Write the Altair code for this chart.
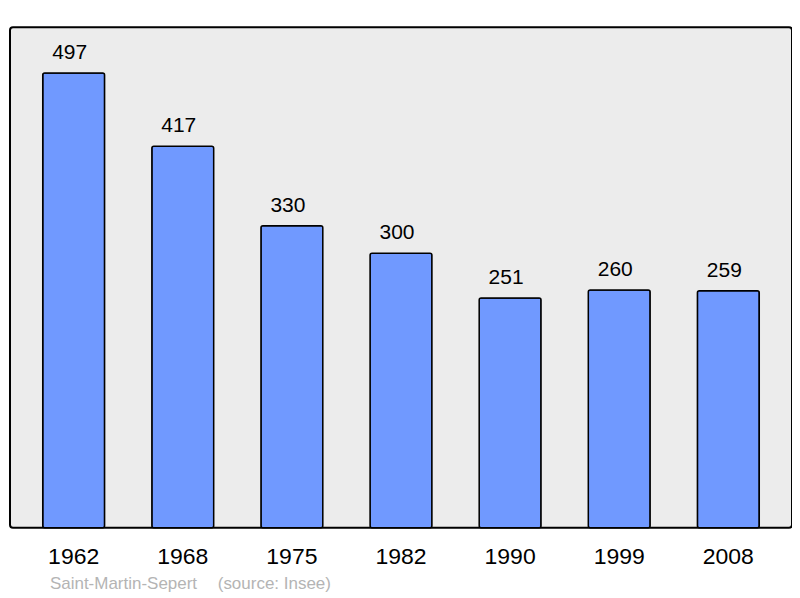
import altair as alt
import pandas as pd

years = ["1962", "1968", "1975", "1982", "1990", "1999", "2008"]
population = [497, 417, 330, 300, 251, 260, 259]
commune = "Saint-Martin-Sepert"
source = "(source: Insee)"

df = pd.DataFrame({"Year": years, "Population": population})

x = alt.X(
    "Year:O",
    scale=alt.Scale(paddingInner=0.433, paddingOuter=0.3),
    axis=alt.Axis(title=None, domain=False, ticks=False, labelAngle=0,
                  labelFontSize=23, labelColor="black", labelPadding=18,
                  labelFont="Liberation Sans"),
)
y = alt.Y("Population:Q", scale=alt.Scale(domain=[0, 547], nice=False),
          axis=None)

bars = alt.Chart(df).mark_bar(
    color="#7099ff", stroke="black", strokeWidth=1.5, cornerRadius=2
).encode(x=x, y=y)

labels = alt.Chart(df).mark_text(
    baseline="alphabetic", dx=-4, dy=-14, fontSize=21, color="black",
    font="Liberation Sans"
).encode(x=x, y=y, text="Population:Q")

caption = alt.Chart(pd.DataFrame({"t": [commune, source], "px": [40, 208]})).mark_text(
    align="left", baseline="middle", fontSize=17, color="#b4b4b4",
    font="Liberation Sans"
).encode(x=alt.X("px:Q", scale=None), y=alt.value(557), text="t:N")

chart = (
    (bars + labels + caption)
    .properties(width=783, height=501, autosize=alt.AutoSizeParams(type="none"),
                padding={"left": 2, "top": 19, "right": 0, "bottom": 68})
    .configure_view(fill="#ececec", stroke="black", strokeWidth=2, cornerRadius=3)
)

chart.save("out.html", embed_options={"renderer": "svg", "actions": False})
